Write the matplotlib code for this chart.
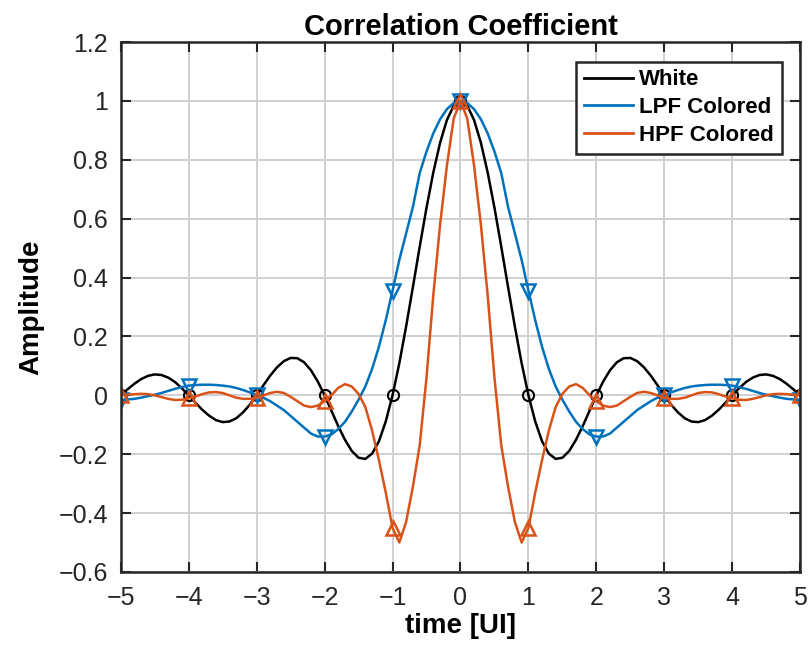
import numpy as np
import matplotlib
matplotlib.use("Agg")
import matplotlib.pyplot as plt

plt.rcParams['font.family'] = ['Liberation Sans', 'DejaVu Sans']

# time axis, 0.1 UI steps from -5 to 5
t = np.round(np.arange(-50, 51) / 10.0, 1)

# values read at t = 0, 0.1, ..., 5 (curves are symmetric about t = 0)
white_half = [1.0, 0.984, 0.935, 0.858, 0.757, 0.637, 0.505, 0.368, 0.234, 0.109,
              0.0, -0.089, -0.156, -0.198, -0.216, -0.212, -0.189, -0.151, -0.104, -0.052,
              0.0, 0.047, 0.085, 0.112, 0.126, 0.127, 0.116, 0.095, 0.067, 0.034,
              0.0, -0.032, -0.058, -0.078, -0.089, -0.091, -0.084, -0.069, -0.049, -0.025,
              0.0, 0.024, 0.045, 0.060, 0.069, 0.071, 0.066, 0.055, 0.039, 0.020, 0.0]
lpf_half = [1.0, 0.993, 0.972, 0.938, 0.89, 0.828, 0.755, 0.64, 0.55, 0.46,
            0.355, 0.255, 0.165, 0.09, 0.03, -0.015, -0.055, -0.09, -0.115, -0.133,
            -0.14, -0.14, -0.13, -0.11, -0.09, -0.07, -0.05, -0.035, -0.02, -0.008,
            0.0, 0.01, 0.018, 0.025, 0.03, 0.033, 0.035, 0.036, 0.036, 0.035,
            0.033, 0.028, 0.022, 0.015, 0.008, 0.002, -0.003, -0.008, -0.012, -0.014, -0.015]
hpf_half = [1.0, 0.94, 0.78, 0.58, 0.34, 0.06, -0.17, -0.31, -0.43, -0.50,
            -0.45, -0.33, -0.22, -0.12, -0.04, 0.005, 0.03, 0.038, 0.025, 0.0,
            -0.02, -0.035, -0.04, -0.035, -0.02, -0.005, 0.008, 0.012, 0.008, 0.0,
            -0.008, -0.012, -0.012, -0.008, 0.0, 0.008, 0.011, 0.01, 0.004, -0.004,
            -0.01, -0.015, -0.016, -0.012, -0.006, 0.0, 0.004, 0.005, 0.004, 0.002, 0.0]

white = np.array(white_half[:0:-1] + white_half)
lpf = np.array(lpf_half[:0:-1] + lpf_half)
hpf = np.array(hpf_half[:0:-1] + hpf_half)

fig = plt.figure(figsize=(8.1, 6.47), dpi=100)
ax = fig.add_axes([0.149, 0.116, 0.839, 0.819])

ax.plot(t, white, color='black', lw=1.8, marker='o', ms=8, mfc='none', mew=1.5,
        markevery=10, label='White')
ax.plot(t, lpf, color='#0072BD', lw=1.8, marker='v', ms=10, mfc='none', mew=1.8,
        markevery=10, label='LPF Colored')
ax.plot(t, hpf, color='#D95319', lw=1.8, marker='^', ms=10, mfc='none', mew=1.8,
        markevery=10, label='HPF Colored')

ax.set_xlim(-5, 5)
ax.set_ylim(-0.6, 1.2)
ax.set_xticks(np.arange(-5, 6, 1))
ax.set_yticks(np.round(np.arange(-0.6, 1.21, 0.2), 1))
ax.set_yticklabels(['\u22120.6', '\u22120.4', '\u22120.2', '0', '0.2', '0.4',
                    '0.6', '0.8', '1', '1.2'])
ax.set_xticklabels(['\u22125', '\u22124', '\u22123', '\u22122', '\u22121', '0',
                    '1', '2', '3', '4', '5'])
ax.grid(True, color='#d0d0d0', lw=1.4)
ax.tick_params(direction='in', length=7, width=1.5, top=True, right=True,
               labelsize=18, colors='#262626', labelcolor='#262626')
ax.tick_params(axis='x', pad=10)
ax.tick_params(axis='y', pad=9)
for s in ax.spines.values():
    s.set_linewidth(1.8)
    s.set_color('#262626')

ax.set_title('Correlation Coefficient', fontsize=21, fontweight='bold', pad=5)
ax.set_xlabel('time [UI]', fontsize=20, fontweight='bold', labelpad=2)
ax.set_ylabel('Amplitude', fontsize=20, fontweight='bold', labelpad=10)

leg = ax.legend(loc='upper right', bbox_to_anchor=(0.973, 0.963), fancybox=False,
                framealpha=1, edgecolor='#262626',
                prop={'size': 16, 'weight': 'bold'},
                handlelength=2.2, borderpad=0.35, labelspacing=0.3,
                handletextpad=0.3, borderaxespad=0)
leg.get_frame().set_linewidth(1.8)
for h in leg.legend_handles:
    h.set_marker('')
    h.set_linewidth(2)

fig.savefig('out.png', dpi=100)
